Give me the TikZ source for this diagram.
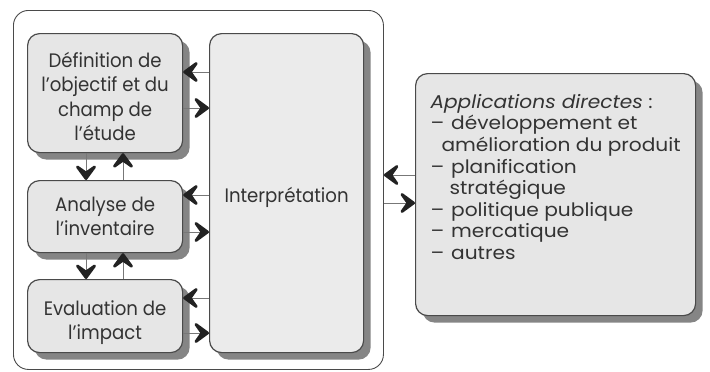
\documentclass[tikz,border=0pt]{standalone}
\usepackage{fontspec}
\setmainfont{Poppins}[FakeStretch=0.93]
\newfontfamily\appsfont{Poppins}[FakeStretch=1.09]
\usetikzlibrary{shadows,calc}
\definecolor{bfill}{HTML}{E6E6E6}
\definecolor{ifill}{HTML}{EBEBEB}
\definecolor{bline}{HTML}{4A4A4A}
\definecolor{shade}{HTML}{858585}
\definecolor{txt}{HTML}{333333}
\definecolor{tipc}{HTML}{222222}
\tikzset{
  box/.style={draw=bline, line width=1.2pt, fill=bfill, rounded corners=12pt,
    anchor=north west, inner sep=0pt, align=center, text=txt,
    font=\fontsize{19.5}{24.3}\selectfont,
    drop shadow={shadow xshift=7pt, shadow yshift=-7pt, fill=shade, opacity=1}},
  conn/.style={draw=bline!75, line width=0.9pt},
  chev/.pic={\fill[tipc, draw=tipc, line width=2.8pt, line join=round]
     (-1.4,0) -- (-13,8.5) -- (-7,0) -- (-13,-8.5) -- cycle;},
}
\begin{document}
\begin{tikzpicture}[x=1pt,y=-1pt]
\useasboundingbox (0,0) rectangle (710,372);
\node[draw=bline, line width=0.9pt, fill=white, rounded corners=15pt, anchor=north west,
  minimum width=370pt, minimum height=359pt, inner sep=0pt] (frame) at (13,10) {};
\node[box, minimum width=155pt, minimum height=119pt] (b1) at (27,33)
  {\rule{0pt}{22pt}Définition de\\l’objectif et du\\champ de\\l’étude};
\node[box, minimum width=155pt, minimum height=72pt] (b2) at (27,180)
  {Analyse de\\l’inventaire};
\node[box, minimum width=155pt, minimum height=73pt] (b3) at (27,279)
  {\rule{0pt}{28pt}Evaluation de\\l’impact};
\node[box, fill=ifill, minimum width=154pt, minimum height=319pt] (interp) at (209,33)
  {\rule{0pt}{24pt}Interprétation};
\node[box, minimum width=280pt, minimum height=242pt, align=left,
  font=\appsfont\fontsize{18.5}{21.6}\selectfont] (apps) at (415,73)
  {\textit{Applications directes} :\\
   –\hspace{7pt}développement et\\
   \hspace{11pt}amélioration du produit\\
   –\hspace{7pt}planification\\
   \hspace{19pt}stratégique\\
   –\hspace{7pt}politique publique\\
   –\hspace{7pt}mercatique\\
   –\hspace{7pt}autres\\[14pt]};
% horizontal arrows
\draw[conn] (interp.west |- 0,72) -- (b1.east |- 0,72) pic[rotate=180]{chev};
\draw[conn] (b1.east |- 0,108) -- (interp.west |- 0,108) pic{chev};
\draw[conn] (interp.west |- 0,195) -- (b2.east |- 0,195) pic[rotate=180]{chev};
\draw[conn] (b2.east |- 0,232) -- (interp.west |- 0,232) pic{chev};
\draw[conn] (interp.west |- 0,298) -- (b3.east |- 0,298) pic[rotate=180]{chev};
\draw[conn] (b3.east |- 0,333) -- (interp.west |- 0,333) pic{chev};
% vertical arrows
\draw[conn] (b1.south -| 86,0) -- (b2.north -| 86,0) pic[rotate=-90]{chev};
\draw[conn] (b2.north -| 123,0) -- (b1.south -| 123,0) pic[rotate=90]{chev};
\draw[conn] (b2.south -| 86,0) -- (b3.north -| 86,0) pic[rotate=-90]{chev};
\draw[conn] (b3.north -| 123,0) -- (b2.south -| 123,0) pic[rotate=90]{chev};
% frame to apps
\draw[conn] (apps.west |- 0,175) -- (frame.east |- 0,175) pic[rotate=180]{chev};
\draw[conn] (frame.east |- 0,203) -- (apps.west |- 0,203) pic{chev};
\end{tikzpicture}
\end{document}
